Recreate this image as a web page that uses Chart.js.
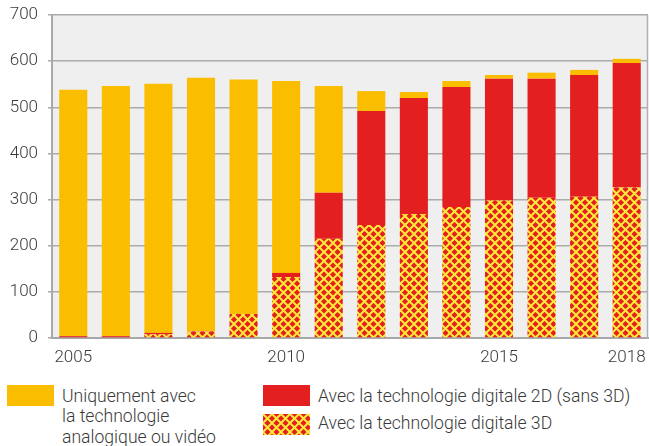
<!DOCTYPE html>
<html>
<head>
<meta charset="utf-8">
<script src="https://cdn.jsdelivr.net/npm/chart.js@4/dist/chart.umd.min.js"></script>
<style>
  html, body { margin:0; padding:0; background:#fff; }
  body { width:649px; height:446px; position:relative; overflow:hidden; font-family: Roboto, "Liberation Sans", sans-serif; }
  #wrap { position:absolute; left:0; top:0; width:649px; height:372px; }
  .sw { position:absolute; width:47px; height:21px; }
  .lt { position:absolute; font-size:17.6px; line-height:20.5px; color:#3a3a3a; font-weight:300; white-space:nowrap; }
</style>
</head>
<body>
<div id="wrap"><canvas id="c"></canvas></div>
<div class="sw" style="left:7px;top:385px;background:#FBBD00"></div>
<div class="lt" style="left:62px;top:385.5px">Uniquement avec<br>la technologie<br>analogique ou vidéo</div>
<div class="sw" style="left:263px;top:385px;background:#E31F1F"></div>
<div class="lt" style="left:318px;top:385.5px">Avec la technologie digitale 2D (sans 3D)</div>
<canvas class="sw" id="sw3" width="47" height="21" style="left:263px;top:414px"></canvas>
<div class="lt" style="left:318px;top:412.5px">Avec la technologie digitale 3D</div>
<script>
const years = ['2005','2006','2007','2008','2009','2010','2011','2012','2013','2014','2015','2016','2017','2018'];
const shownYears = ['2005','2010','2015','2018'];
const digital3D = [0, 0, 8, 14, 52, 132, 215, 245, 269, 284, 298, 304, 306, 326];
const digital2D = [4, 4, 3, 1, 0, 9, 100, 247, 251, 260, 264, 258, 264, 270];
const analogOnly = [534, 542, 540, 549, 508, 416, 231, 43, 13, 13, 8, 13, 11, 9];
const yTicks = [0, 100, 200, 300, 400, 500, 600, 700];

const YELLOW = '#FBBD00', RED = '#E31F1F', PAT_YELLOW = '#FFE93A';

function makePattern(ctx) {
  const p = document.createElement('canvas');
  const s = 9;
  p.width = s; p.height = s;
  const g = p.getContext('2d');
  g.fillStyle = RED; g.fillRect(0,0,s,s);
  g.strokeStyle = PAT_YELLOW; g.lineWidth = 2;
  g.beginPath();
  g.moveTo(-1,-1); g.lineTo(s+1,s+1);
  g.moveTo(s+1,-1); g.lineTo(-1,s+1);
  g.stroke();
  return ctx.createPattern(p, 'repeat');
}

const ctx = document.getElementById('c').getContext('2d');
const pattern = makePattern(ctx);
const sw3 = document.getElementById('sw3').getContext('2d');
sw3.fillStyle = makePattern(sw3); sw3.fillRect(0,0,47,21);

const bgPlugin = {
  id: 'bg',
  beforeDraw(chart) {
    const a = chart.chartArea, c = chart.ctx;
    c.save(); c.fillStyle = '#EFEFEF';
    c.fillRect(a.left, a.top, a.right - a.left, a.bottom - a.top);
    c.restore();
  },
  afterDraw(chart) {
    const a = chart.chartArea, c = chart.ctx;
    c.save(); c.strokeStyle = '#B0B0B0'; c.lineWidth = 1.5;
    c.beginPath(); c.moveTo(a.right - 0.5, a.top); c.lineTo(a.right - 0.5, a.bottom); c.stroke();
    c.restore();
  }
};

Chart.defaults.font.family = 'Roboto, "Liberation Sans", sans-serif';

new Chart(ctx, {
  type: 'bar',
  data: {
    labels: years,
    datasets: [
      { label: 'Avec la technologie digitale 3D', data: digital3D, backgroundColor: pattern },
      { label: 'Avec la technologie digitale 2D (sans 3D)', data: digital2D, backgroundColor: RED },
      { label: 'Uniquement avec la technologie analogique ou vidéo', data: analogOnly, backgroundColor: YELLOW }
    ]
  },
  options: {
    responsive: true,
    maintainAspectRatio: false,
    animation: false,
    layout: { padding: { top: 15, right: 1, left: 0, bottom: 0 } },
    plugins: { legend: { display: false }, tooltip: { enabled: false } },
    datasets: { bar: { categoryPercentage: 1, barPercentage: 0.66 } },
    scales: {
      x: {
        stacked: true,
        grid: { display: false, drawTicks: false },
        border: { color: '#A8A8A8', width: 2 },
        ticks: {
          autoSkip: false, maxRotation: 0, padding: 10,
          color: '#3a3a3a', font: { size: 17, weight: 300 },
          callback: function(v, i) { const l = years[i]; return shownYears.includes(l) ? l : ''; }
        },
        afterFit(s) { s.height = 34; s.paddingLeft = 0; s.paddingRight = 0; }
      },
      y: {
        stacked: true,
        min: 0, max: 700,
        afterBuildTicks(s) { s.ticks = yTicks.map(v => ({ value: v })); },
        grid: { color: '#ABABAB', lineWidth: 1.5, tickLength: 4, drawTicks: true },
        border: { color: '#A8A8A8', width: 2 },
        ticks: { padding: 10, color: '#3a3a3a', font: { size: 17, weight: 300 } },
        afterFit(s) { s.width = 52; s.paddingTop = 0; s.paddingBottom = 0; }
      }
    }
  },
  plugins: [bgPlugin]
});
</script>
</body>
</html>
